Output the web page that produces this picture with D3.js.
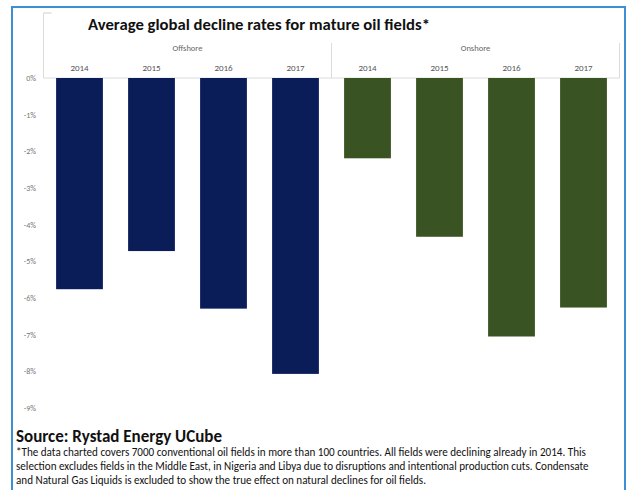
<!DOCTYPE html>
<html>
<head>
<meta charset="utf-8">
<script src="https://cdn.jsdelivr.net/npm/d3@7"></script>
<style>
  html, body { margin: 0; padding: 0; background: #fff; }
  svg { display: block; }
</style>
</head>
<body>
<svg id="chart" width="628" height="490"></svg>
<script>
// Average decline rates (%) by segment and year
const groups = ["Offshore", "Onshore"];
const years = ["2014", "2015", "2016", "2017"];
const offshoreValues = [-5.76, -4.72, -6.29, -8.07];
const onshoreValues = [-2.19, -4.33, -7.05, -6.26];
const yTicks = [0, -1, -2, -3, -4, -5, -6, -7, -8, -9];
const groupColors = { Offshore: "#0b1d58", Onshore: "#3a5322" };

const titleText = "Average global decline rates for mature oil fields*";
const sourceText = "Source: Rystad Energy UCube";
const noteLines = [
  "*The data charted covers 7000 conventional oil fields in more than 100 countries. All fields were declining already in 2014. This",
  "selection excludes fields in the Middle East, in Nigeria and Libya due to disruptions and intentional production cuts. Condensate",
  "and Natural Gas Liquids is excluded to show the true effect on natural declines for oil fields."
];

const rows = [];
groups.forEach((g, gi) => {
  const vals = gi === 0 ? offshoreValues : onshoreValues;
  years.forEach((y, yi) => rows.push({ group: g, year: y, key: g + "-" + y, value: vals[yi] }));
});

const svg = d3.select("#chart");
const font = "Calibri, Carlito, Lato, 'Open Sans', sans-serif";

// outer frame
svg.append("rect")
  .attr("x", 12).attr("y", 7).attr("width", 613).attr("height", 490)
  .attr("fill", "#fff").attr("stroke", "#3d8fd1").attr("stroke-width", 2);

const plotLeft = 43.5, plotRight = 619.5, y0 = 78, y9 = 408;

const x = d3.scaleBand().domain(rows.map(d => d.key)).range([plotLeft, plotRight]).paddingInner(0.35).paddingOuter(0.175);
const y = d3.scaleLinear().domain([0, -9]).range([y0, y9]);

// header box with category labels
const header = svg.append("g");
header.append("path")
  .attr("d", `M${plotLeft},13 V${y0} H${plotRight} V43`)
  .attr("fill", "none").attr("stroke", "#dcdcdc").attr("stroke-width", 1);
header.append("line")
  .attr("x1", plotLeft).attr("x2", plotLeft + 8).attr("y1", 13).attr("y2", 13)
  .attr("stroke", "#cfcfcf");
const midX = x(rows[4].key) - x.step() * x.paddingInner() / 2;
header.append("line")
  .attr("x1", midX).attr("x2", midX).attr("y1", 43).attr("y2", y0)
  .attr("stroke", "#dcdcdc");

groups.forEach((g, gi) => {
  const first = x(g + "-" + years[0]);
  const last = x(g + "-" + years[years.length - 1]) + x.bandwidth();
  header.append("text")
    .attr("x", (first + last) / 2).attr("y", 51)
    .attr("text-anchor", "middle").attr("font-family", font).attr("font-size", 8.5)
    .attr("fill", "#666").text(g);
});

// year tick labels along the top
const xAxis = d3.axisTop(x).tickSize(0).tickPadding(0).tickFormat(k => k.split("-")[1]);
const xg = svg.append("g").attr("transform", `translate(0,${70.5})`).call(xAxis);
xg.select(".domain").remove();
xg.selectAll("text").attr("font-family", font).attr("font-size", 9).attr("fill", "#555").attr("dy", 0);

// y axis labels
const yAxis = d3.axisLeft(y).tickValues(yTicks).tickSize(0).tickPadding(0).tickFormat(d => d + "%");
const yg = svg.append("g").attr("transform", "translate(36,0)").call(yAxis);
yg.select(".domain").remove();
yg.selectAll("text").attr("font-family", font).attr("font-size", 8).attr("fill", "#777");

// bars
svg.append("g").selectAll("rect").data(rows).join("rect")
  .attr("x", d => x(d.key))
  .attr("y", d => y(0))
  .attr("width", x.bandwidth())
  .attr("height", d => y(d.value) - y(0))
  .attr("fill", d => groupColors[d.group]);

// title
svg.append("text")
  .attr("x", 88).attr("y", 30)
  .attr("font-family", font).attr("font-weight", "bold").attr("font-size", 16.7)
  .attr("fill", "#111").text(titleText);

// source and footnote
svg.append("text")
  .attr("x", 16).attr("y", 442)
  .attr("font-family", font).attr("font-weight", "bold").attr("font-size", 17)
  .attr("fill", "#111").text(sourceText);

svg.append("g").selectAll("text").data(noteLines).join("text")
  .attr("x", 16).attr("y", (d, i) => 456 + i * 14)
  .attr("font-family", font).attr("font-size", 11.1)
  .attr("fill", "#111").text(d => d);
</script>
</body>
</html>
